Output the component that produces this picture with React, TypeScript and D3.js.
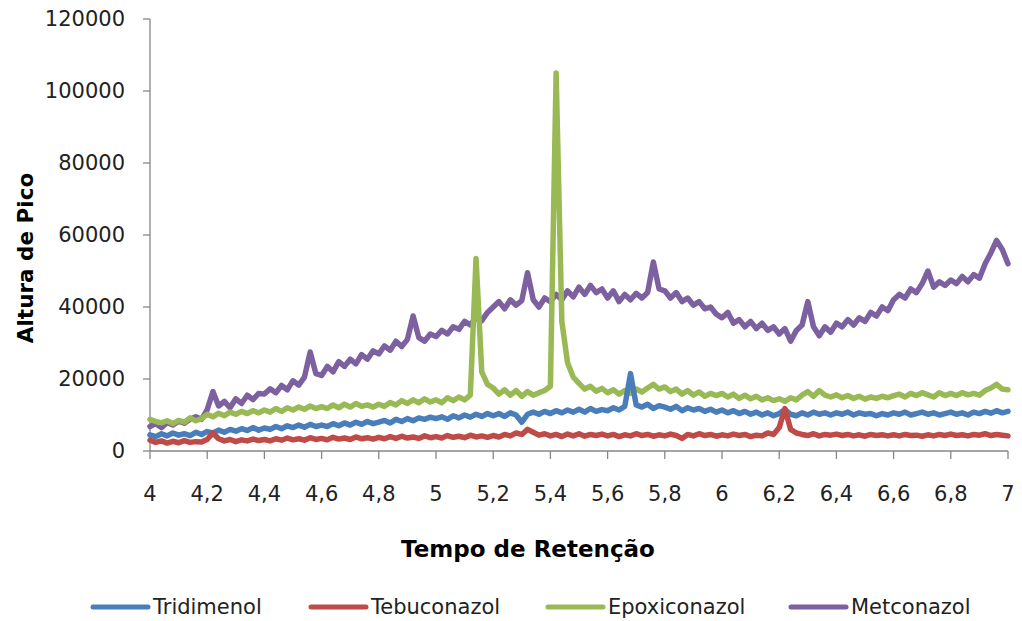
import React from "react";
import * as d3 from "d3";

const T0 = 4;
const STEP = 0.02;

const xTicks = [4, 4.2, 4.4, 4.6, 4.8, 5, 5.2, 5.4, 5.6, 5.8, 6, 6.2, 6.4, 6.6, 6.8, 7];
const yTicks = [0, 20000, 40000, 60000, 80000, 100000, 120000];

const metconazol = [
  6800, 7600, 6500, 7900, 7200, 8300, 7700, 8800, 9500, 8800,
  11500, 16500, 12500, 13800, 12000, 14500, 13200, 15500, 14300, 16000,
  15800, 17300, 16200, 18200, 17000, 19500, 18300, 20500, 27500, 21500,
  21000, 23500, 22000, 24800, 23500, 25500, 24200, 26800, 25500, 27800,
  27000, 29200, 28000, 30500, 29000, 31000, 37500, 31500, 30500, 32500,
  31800, 33500, 32500, 34500, 33800, 36000, 35000, 37000, 36200, 38500,
  40000, 41500, 39500, 42000, 40500, 41800, 49500, 42000, 40000, 42500,
  41500, 43500, 42000, 44500, 42800, 45500, 43500, 46000, 44000, 45000,
  42500, 44500, 41500, 43500, 42000, 43800, 42500, 44000, 52500, 45000,
  44500, 42500, 44000, 41500, 42500, 40500, 41500, 39500, 40000, 38000,
  37000, 38500, 35500, 36500, 34500, 36000, 34000, 35500, 33500, 34500,
  32500, 34000, 30500, 33500, 35000, 41500, 34500, 32000, 34500, 33000,
  35500, 34500, 36500, 35000, 37000, 36000, 38500, 37500, 40000, 39000,
  42000, 43500, 42500, 45000, 44000, 46500, 50000, 45500, 47000, 46000,
  47500, 46500, 48500, 47000, 49000, 48000, 52000, 55000, 58500, 56000,
  52000,
];

const epoxiconazol = [
  8800, 8200, 7800, 8400, 7600, 8500, 8000, 9200, 8400, 9000,
  10200, 9500, 10500, 9800, 10800, 10200, 11000, 10400, 11200, 10600,
  11400, 10800, 11800, 11000, 12000, 11400, 12200, 11600, 12500, 11800,
  12300, 11800, 12800, 12000, 13000, 12200, 13200, 12400, 12800, 12200,
  13000, 12400, 13500, 12800, 14000, 13200, 14200, 13400, 14500, 13600,
  14200, 13400, 14800, 14000, 15000, 14200, 15500, 53500, 22000, 18500,
  17500, 15800, 17000, 15500, 16800, 15200, 16500, 15500, 16200, 16800,
  18000, 105000, 36000, 24500, 20500, 18800, 17200, 18000, 16600, 17400,
  16200, 17000, 15800, 16800, 16000, 17200, 16400, 17500, 18500, 17200,
  17800, 16500, 17200, 15800, 16800, 15500, 16400, 15200, 16000, 15400,
  16000, 15000, 15800, 14600, 15500, 14500, 15200, 14200, 14800, 14000,
  14500, 13800, 14800, 14200, 15500, 16500, 15200, 16800, 15500, 15000,
  15600, 14800, 15400, 14600, 15200, 14400, 15000, 14600, 15200, 14800,
  15400, 15800, 15000, 16000, 15400, 16200, 15600, 15000, 16200, 15400,
  16000, 15400, 16200, 15600, 16000, 15500, 16800, 17500, 18500, 17200,
  17000,
];

const tridimenol = [
  4500, 4000, 4800, 4200, 5000, 4400, 4800, 4300, 5200, 4600,
  5400, 5000, 5800, 5200, 6000, 5500, 6200, 5700, 6500, 5800,
  6400, 6000, 6800, 6200, 7000, 6500, 7200, 6600, 7400, 6800,
  7200, 6800, 7600, 7000, 7800, 7200, 8000, 7400, 8200, 7600,
  8000, 8500, 7800, 8800, 8200, 9000, 8400, 9200, 8800, 9400,
  9000, 9500, 8800, 9800, 9200, 10000, 9400, 10200, 9600, 10400,
  9800, 10400, 9600, 10600, 10000, 8000, 10200, 10800, 10200, 11000,
  10400, 11200, 10600, 11400, 10800, 11600, 10800, 11800, 11000, 11500,
  11200, 12000, 11400, 12400, 21500, 12800, 12200, 13000, 11800, 12600,
  12200, 11600, 12400, 11200, 12000, 11400, 11800, 11000, 11600, 10800,
  11400, 10600, 11200, 10400, 11000, 10200, 10800, 10000, 10600, 9800,
  10400, 11500, 10200, 9800, 10600, 10000, 10800, 10200, 10600, 10000,
  10600, 10200, 10800, 10000, 10600, 10200, 10400, 9800, 10400, 10000,
  10600, 10200, 10800, 10000, 10400, 10800, 10200, 10600, 10000, 10400,
  10800, 10200, 10600, 10000, 10800, 10400, 11000, 10500, 11200, 10600,
  11000,
];

const tebuconazol = [
  3000, 2400, 2800, 2200, 2700, 2300, 2900, 2400, 2600, 2500,
  3200, 5000, 3400, 2800, 3200, 2600, 3100, 2800, 3300, 2900,
  3200, 2800, 3400, 3000, 3600, 3100, 3400, 3000, 3700, 3200,
  3500, 3100, 3800, 3300, 3600, 3200, 3900, 3400, 3700, 3300,
  3800, 3400, 4000, 3500, 4100, 3600, 3900, 3500, 4200, 3700,
  4000, 3600, 4300, 3800, 4100, 3700, 4400, 3900, 4200, 3800,
  4300, 3900, 4600, 4200, 5000, 4600, 6000, 5200, 4400, 4800,
  4200, 4600, 4000, 4700, 4200, 4800, 4100, 4600, 4300, 4700,
  4200, 4600, 4000, 4500, 4200, 4800, 4300, 4600, 4100, 4500,
  4200, 4700, 4300, 3500, 4600, 4200, 4800, 4300, 4600, 4100,
  4500, 4200, 4700, 4300, 4600, 4000, 4400, 4200, 5000, 4600,
  6500, 11800, 6000, 5000, 4600, 4300, 4800, 4200, 4600, 4400,
  4700, 4300, 4600, 4200, 4500, 4100, 4600, 4300, 4500, 4200,
  4500, 4200, 4600, 4300, 4400, 4100, 4500, 4200, 4600, 4300,
  4700, 4300, 4500, 4200, 4600, 4400, 4800, 4300, 4600, 4400,
  4200,
];

const seriesNames = ["Tridimenol", "Tebuconazol", "Epoxiconazol", "Metconazol"];
const seriesColors = ["#4A7EBB", "#BE4B48", "#98B954", "#7D60A0"];
const seriesValues = [tridimenol, tebuconazol, epoxiconazol, metconazol];
const drawOrder = [3, 2, 0, 1];

const W = 1022;
const H = 621;
const left = 150;
const right = 1008;
const top = 19;
const bottom = 451;

export default function App() {
  const x = d3.scaleLinear().domain([4, 7]).range([left, right]);
  const y = d3.scaleLinear().domain([0, 120000]).range([bottom, top]);
  const line = d3
    .line<number>()
    .x((_, i) => x(T0 + i * STEP))
    .y((v) => y(v));

  const legendX = [93, 311, 548, 791];
  const axisColor = "#868686";
  const textColor = "#222";
  const font = "'DejaVu Sans', sans-serif";

  return (
    <svg
      width={W}
      height={H}
      style={{ position: "absolute", left: 0, top: 0, background: "#fff" }}
      fontFamily={font}
    >
      <rect x={0} y={0} width={W} height={H} fill="#fff" />
      {/* y axis */}
      <line x1={left} x2={left} y1={top} y2={bottom} stroke={axisColor} strokeWidth={1.3} />
      {yTicks.map((t) => (
        <g key={"y" + t}>
          <line x1={left - 7} x2={left} y1={y(t)} y2={y(t)} stroke={axisColor} strokeWidth={1.3} />
          <text
            x={125}
            y={y(t)}
            textAnchor="end"
            dominantBaseline="central"
            fontSize={21}
            fill={textColor}
          >
            {t}
          </text>
        </g>
      ))}
      {/* x axis */}
      <line x1={left} x2={right} y1={bottom} y2={bottom} stroke={axisColor} strokeWidth={1.3} />
      {xTicks.map((t) => (
        <g key={"x" + t}>
          <line x1={x(t)} x2={x(t)} y1={bottom} y2={bottom + 8} stroke={axisColor} strokeWidth={1.3} />
          <text x={x(t)} y={501} textAnchor="middle" fontSize={21} fill={textColor}>
            {String(t).replace(".", ",")}
          </text>
        </g>
      ))}
      {/* series */}
      {drawOrder.map((k) => (
        <path
          key={seriesNames[k]}
          d={line(seriesValues[k]) || ""}
          fill="none"
          stroke={seriesColors[k]}
          strokeWidth={5.5}
          strokeLinejoin="round"
          strokeLinecap="round"
        />
      ))}
      {/* axis titles */}
      <text x={528} y={557} textAnchor="middle" fontSize={23} fontWeight="bold" fill="#000">
        Tempo de Retenção
      </text>
      <text
        transform="translate(33,258) rotate(-90)"
        textAnchor="middle"
        fontSize={21.5}
        fontWeight="bold"
        fill="#000"
      >
        Altura de Pico
      </text>
      {/* legend */}
      {seriesNames.map((n, k) => (
        <g key={"lg" + n}>
          <line
            x1={legendX[k]}
            x2={legendX[k] + 55}
            y1={607}
            y2={607}
            stroke={seriesColors[k]}
            strokeWidth={5}
            strokeLinecap="round"
          />
          <text x={legendX[k] + 60} y={607} dominantBaseline="central" fontSize={21} fill={textColor}>
            {n}
          </text>
        </g>
      ))}
    </svg>
  );
}
